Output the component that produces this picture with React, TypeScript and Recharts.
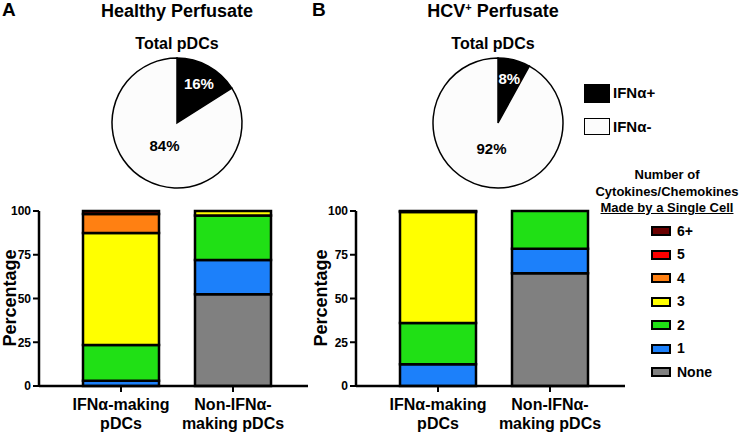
import React from 'react';
import { BarChart, Bar, XAxis, YAxis, PieChart, Pie, Cell } from 'recharts';

// ---------------------------------------------------------------------------
// Data
// ---------------------------------------------------------------------------

const CATEGORIES = ['IFNα-making pDCs', 'Non-IFNα-making pDCs'];
const TICK_LINES = [
  ['IFNα-making', 'pDCs'],
  ['Non-IFNα-', 'making pDCs'],
];

// stacked from bottom to top: None, 1, 2, 3, 4, 5, 6+
const SERIES_KEYS = ['none', 'one', 'two', 'three', 'four', 'five', 'sixPlus'] as const;
const SERIES_LABELS = ['None', '1', '2', '3', '4', '5', '6+'];

const HEALTHY_NONE = [0, 52.5];
const HEALTHY_ONE = [3, 19.5];
const HEALTHY_TWO = [20.5, 25.5];
const HEALTHY_THREE = [64, 2.5];
const HEALTHY_FOUR = [10.8, 0];
const HEALTHY_FIVE = [0, 0];
const HEALTHY_SIX = [1.7, 0];

const HCV_NONE = [0, 64.5];
const HCV_ONE = [12.5, 14];
const HCV_TWO = [23.5, 21.5];
const HCV_THREE = [63.5, 0];
const HCV_FOUR = [0.3, 0];
const HCV_FIVE = [0, 0];
const HCV_SIX = [0.2, 0];

const PIE_NAMES = ['IFNα+', 'IFNα-'];
const HEALTHY_PIE = [16, 84];
const HCV_PIE = [8, 92];

const Y_TICKS = [0, 25, 50, 75, 100];

// ---------------------------------------------------------------------------
// Style
// ---------------------------------------------------------------------------

const FONT = '"Liberation Sans", Arial, Helvetica, sans-serif';

const SERIES_COLORS: Record<string, string> = {
  none: '#808080',
  one: '#1C80FA',
  two: '#20E015',
  three: '#FFFF00',
  four: '#FF8012',
  five: '#FF0000',
  sixPlus: '#6A0000',
};

const PIE_COLORS = ['#000000', '#FCFCFC'];
const PIE_LABEL_COLORS = ['#FFFFFF', '#000000'];

// ---------------------------------------------------------------------------
// Helpers
// ---------------------------------------------------------------------------

function buildRows(cols: number[][]) {
  return CATEGORIES.map((name, i) => {
    const row: Record<string, string | number> = { name };
    SERIES_KEYS.forEach((key, k) => {
      row[key] = cols[k][i];
    });
    return row;
  });
}

const healthyRows = buildRows([
  HEALTHY_NONE, HEALTHY_ONE, HEALTHY_TWO, HEALTHY_THREE, HEALTHY_FOUR, HEALTHY_FIVE, HEALTHY_SIX,
]);
const hcvRows = buildRows([
  HCV_NONE, HCV_ONE, HCV_TWO, HCV_THREE, HCV_FOUR, HCV_FIVE, HCV_SIX,
]);

const RADIAN = Math.PI / 180;

function PieLabel(props: any) {
  const { cx, cy, midAngle, outerRadius, percent, index } = props;
  const r = percent < 0.5 ? outerRadius * 0.7 : outerRadius * 0.4;
  const x = cx + r * Math.cos(-midAngle * RADIAN);
  const y = cy + r * Math.sin(-midAngle * RADIAN);
  return (
    <text
      x={x}
      y={y}
      textAnchor="middle"
      dominantBaseline="central"
      fill={PIE_LABEL_COLORS[index]}
      fontFamily={FONT}
      fontWeight="bold"
      fontSize={15}
    >
      {`${Math.round(percent * 100)}%`}
    </text>
  );
}

function CategoryTick(props: any) {
  const { x, y, index } = props;
  const lines = TICK_LINES[index] ?? [String(props.payload?.value)];
  return (
    <g>
      {lines.map((line, i) => (
        <text
          key={i}
          x={x}
          y={y + 16 + i * 19}
          textAnchor="middle"
          fill="#000"
          fontFamily={FONT}
          fontWeight="bold"
          fontSize={16}
        >
          {line}
        </text>
      ))}
    </g>
  );
}

// ---------------------------------------------------------------------------
// Pieces
// ---------------------------------------------------------------------------

function StackedPanel({ rows, left }: { rows: Record<string, string | number>[]; left: number }) {
  return (
    <div style={{ position: 'absolute', left, top: 190 }}>
      <BarChart width={312} height={245} data={rows} margin={{ top: 21, right: 4, bottom: 0, left: 0 }}>
        <XAxis
          dataKey="name"
          height={49}
          padding={{ left: 26, right: 19 }}
          axisLine={{ stroke: '#000', strokeWidth: 2.5 }}
          tickLine={{ stroke: '#000', strokeWidth: 2 }}
          tickSize={6}
          tick={<CategoryTick />}
          interval={0}
        />
        <YAxis
          type="number"
          domain={[0, 100]}
          ticks={Y_TICKS}
          width={39}
          axisLine={{ stroke: '#000', strokeWidth: 2.5 }}
          tickLine={{ stroke: '#000', strokeWidth: 2 }}
          tickSize={6}
          tick={{ fill: '#000', fontSize: 12, fontWeight: 'bold', fontFamily: FONT }}
        />
        {SERIES_KEYS.map((key) => (
          <Bar
            key={key}
            dataKey={key}
            stackId="a"
            barSize={76}
            fill={SERIES_COLORS[key]}
            stroke="#000"
            strokeWidth={2.5}
            isAnimationActive={false}
          />
        ))}
      </BarChart>
    </div>
  );
}

function PiePanel({ values, cx }: { values: number[]; cx: number }) {
  const data = PIE_NAMES.map((name, i) => ({ name, value: values[i] }));
  return (
    <div style={{ position: 'absolute', left: cx - 80, top: 38 }}>
      <PieChart width={160} height={160}>
        <Pie
          data={data}
          dataKey="value"
          cx={80}
          cy={80}
          outerRadius={65}
          startAngle={90}
          endAngle={-270}
          stroke="#000"
          strokeWidth={1.5}
          labelLine={false}
          label={PieLabel}
          isAnimationActive={false}
        >
          {data.map((d, i) => (
            <Cell key={d.name} fill={PIE_COLORS[i]} />
          ))}
        </Pie>
      </PieChart>
    </div>
  );
}

function Label({
  text, x, y, size, align = 'center', width = 240, underline = false,
}: {
  text: React.ReactNode; x: number; y: number; size: number;
  align?: 'center' | 'left'; width?: number; underline?: boolean;
}) {
  const lh = Math.round(size * 1.2);
  return (
    <div
      style={{
        position: 'absolute',
        left: align === 'center' ? x - width / 2 : x,
        top: y - lh / 2,
        width,
        lineHeight: `${lh}px`,
        fontSize: size,
        fontWeight: 'bold',
        fontFamily: FONT,
        textAlign: align,
        textDecoration: underline ? 'underline' : 'none',
        whiteSpace: 'nowrap',
        color: '#000',
      }}
    >
      {text}
    </div>
  );
}

function YTitle({ x, y }: { x: number; y: number }) {
  return (
    <div
      style={{
        position: 'absolute',
        left: x,
        top: y,
        transform: 'translate(-50%, -50%) rotate(-90deg)',
        fontSize: 18,
        fontWeight: 'bold',
        fontFamily: FONT,
        whiteSpace: 'nowrap',
        lineHeight: '20px',
      }}
    >
      Percentage
    </div>
  );
}

// legend rows from top (6+) down to None
const LEGEND_ROWS = [...SERIES_KEYS].reverse();
const LEGEND_LABELS = [...SERIES_LABELS].reverse();

export default function App() {
  return (
    <div
      style={{
        position: 'absolute',
        left: 0,
        top: 0,
        width: 740,
        height: 435,
        background: '#fff',
        overflow: 'hidden',
      }}
    >
      {/* Panel letters & titles */}
      <Label text="A" x={2} y={9} size={19} align="left" width={30} />
      <Label text="B" x={312} y={9} size={19} align="left" width={30} />
      <Label text="Healthy Perfusate" x={177} y={11} size={18} />
      <Label text={<span>HCV<sup style={{ fontSize: 11, verticalAlign: 'top', lineHeight: '14px' }}>+</sup> Perfusate</span>} x={493} y={11} size={18} />
      <Label text="Total pDCs" x={177} y={43} size={16} />
      <Label text="Total pDCs" x={493} y={43} size={16} />

      <PiePanel values={HEALTHY_PIE} cx={172} />
      <PiePanel values={HCV_PIE} cx={493} />

      {/* Pie legend */}
      {PIE_NAMES.map((name, i) => (
        <React.Fragment key={name}>
          <div
            style={{
              position: 'absolute',
              left: 584,
              top: i === 0 ? 84 : 118,
              width: 26,
              height: i === 0 ? 19 : 17,
              boxSizing: 'border-box',
              border: '1px solid #000',
              background: PIE_COLORS[i],
            }}
          />
          <Label text={name} x={613} y={i === 0 ? 93 : 127} size={15} align="left" width={60} />
        </React.Fragment>
      ))}

      <StackedPanel rows={healthyRows} left={0} />
      <StackedPanel rows={hcvRows} left={317} />

      <YTitle x={10} y={298} />
      <YTitle x={321} y={298} />

      {/* Stacked bar legend */}
      <Label text="Number of" x={667} y={175} size={13} width={150} />
      <Label text="Cytokines/Chemokines" x={667} y={192} size={13} width={150} />
      <Label text="Made by a Single Cell" x={667} y={208} size={13} width={150} underline />
      {LEGEND_ROWS.map((key, i) => {
        const cy = 231 + i * 23.5;
        return (
          <React.Fragment key={key}>
            <div
              style={{
                position: 'absolute',
                left: 651,
                top: cy - 5,
                width: 20,
                height: 10,
                boxSizing: 'border-box',
                border: '2px solid #000',
                background: SERIES_COLORS[key],
              }}
            />
            <Label text={LEGEND_LABELS[i]} x={677} y={cy} size={14} align="left" width={60} />
          </React.Fragment>
        );
      })}
    </div>
  );
}
